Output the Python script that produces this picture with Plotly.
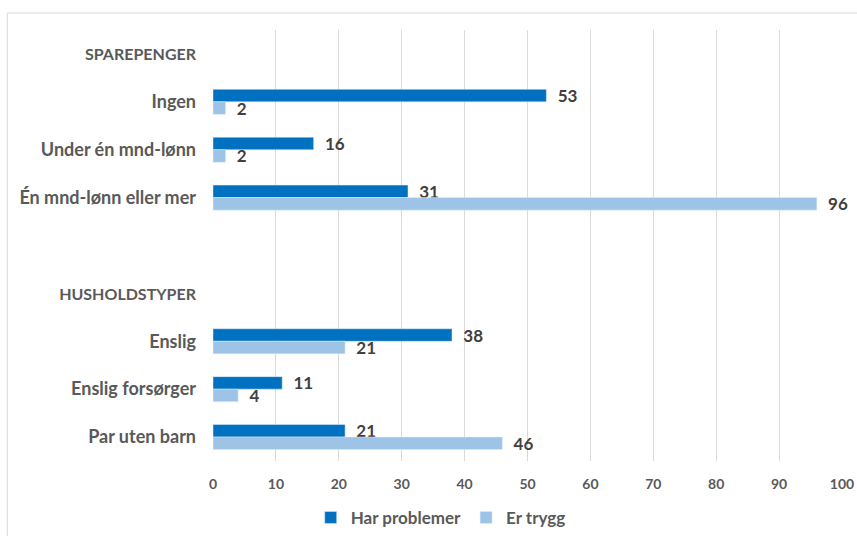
import plotly.graph_objects as go

categories = ["SPAREPENGER", "Ingen", "Under én mnd-lønn", "Én mnd-lønn eller mer", " ",
              "HUSHOLDSTYPER", "Enslig", "Enslig forsørger", "Par uten barn"]
header_categories = ["SPAREPENGER", "HUSHOLDSTYPER"]
har_problemer = [None, 53, 16, 31, None, None, 38, 11, 21]
er_trygg = [None, 2, 2, 96, None, None, 21, 4, 46]
x_ticks = list(range(0, 101, 10))

tick_text = [f'<span style="font-size:16px">{c}</span>' if c in header_categories else c
             for c in categories]

FONT = "Lato"
label_font = dict(family=FONT, size=17, color="#404040", weight="bold")
fig = go.Figure()
fig.add_trace(go.Bar(
    y=categories, x=har_problemer, orientation="h", name="Har problemer",
    marker=dict(color="#0070C0"), text=har_problemer, textposition="outside",
    texttemplate="\u00a0\u00a0%{x}", constraintext="none",
    textfont=label_font, cliponaxis=False))
fig.add_trace(go.Bar(
    y=categories, x=er_trygg, orientation="h", name="Er trygg",
    marker=dict(color="#9DC3E6"), text=er_trygg, textposition="outside",
    texttemplate="\u00a0\u00a0%{x}", constraintext="none",
    textfont=label_font, cliponaxis=False))

fig.update_layout(
    width=857, height=536,
    margin=dict(l=213, r=15, t=30, b=75, autoexpand=False),
    barmode="group", bargap=0.477, bargroupgap=0,
    plot_bgcolor="white", paper_bgcolor="white",
    font=dict(family=FONT, color="#595959"),
    xaxis=dict(range=[0, 100], tickvals=x_ticks, showgrid=True, gridcolor="#D9D9D9",
               gridwidth=1, zeroline=False, showline=False, automargin=False,
               tickfont=dict(family=FONT, size=14, color="#595959", weight="bold"),
               ticks="", ticklabelstandoff=13),
    yaxis=dict(categoryorder="array", categoryarray=categories, autorange="reversed",
               tickmode="array", tickvals=categories, ticktext=tick_text,
               showgrid=False, zeroline=False, showline=False, ticks="", automargin=False,
               tickfont=dict(family=FONT, size=18, color="#595959", weight="bold"),
               ticklabelstandoff=16),
    legend=dict(orientation="h", x=0.362, xanchor="center", y=-0.132, yanchor="middle",
                font=dict(family=FONT, size=17, color="#595959", weight="bold"),
                itemwidth=30, traceorder="normal"),
    shapes=[dict(type="rect", xref="paper", yref="paper", x0=-0.327, x1=1.2,
                 y0=-0.3, y1=1.0394, line=dict(color="#D9D9D9", width=1),
                 fillcolor="rgba(0,0,0,0)", layer="below")],
    showlegend=True,
)

fig.write_html("out.html")
